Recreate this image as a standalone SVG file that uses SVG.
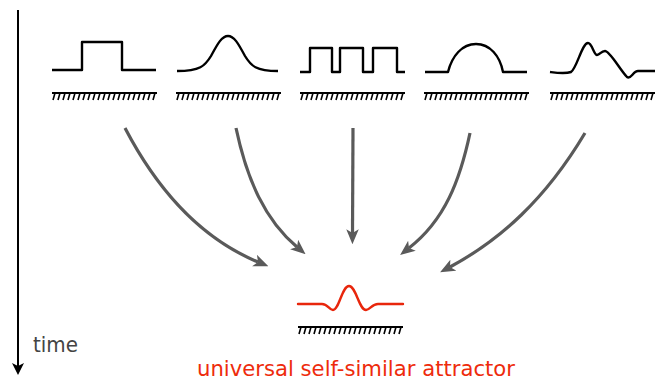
<svg xmlns="http://www.w3.org/2000/svg" xmlns:xlink="http://www.w3.org/1999/xlink" width="664" height="380" viewBox="0 0 664 380">
<style>
.wave{fill:none;stroke:#000;stroke-width:2.4;stroke-linejoin:round}
.red{fill:none;stroke:#e8260c;stroke-width:2.4;stroke-linecap:round;stroke-linejoin:round}
.conn{fill:none;stroke:#5a5a5a;stroke-width:3.2}
.hl{stroke:#000;stroke-width:2}
.ht{stroke:#000;stroke-width:1.6;fill:none}
.lbl{font-family:"DejaVu Sans",sans-serif}
</style>
<defs>
<marker id="ah" markerUnits="userSpaceOnUse" markerWidth="15" markerHeight="13" viewBox="0 0 12 10" refX="3" refY="5" orient="auto">
<path d="M0,0 L12,5 L0,10 L3,5 z" fill="#5a5a5a"/>
</marker>
<marker id="ahk" markerUnits="userSpaceOnUse" markerWidth="12" markerHeight="12" viewBox="0 0 12 12" refX="3" refY="6" orient="auto">
<path d="M0,0 L12,6 L0,12 L3,6 z" fill="#000"/>
</marker>
<g id="hatch">
<line class="hl" x1="0" y1="0" x2="105" y2="0"/>
<path class="ht" d="M3,0 L1,7 M8,0 L6,7 M13,0 L11,7 M18,0 L16,7 M23,0 L21,7 M28,0 L26,7 M33,0 L31,7 M38,0 L36,7 M43,0 L41,7 M48,0 L46,7 M53,0 L51,7 M58,0 L56,7 M63,0 L61,7 M68,0 L66,7 M73,0 L71,7 M78,0 L76,7 M83,0 L81,7 M88,0 L86,7 M93,0 L91,7 M98,0 L96,7 M103,0 L101,7"/>
</g>
</defs>

<g id="time-axis">
<line x1="18" y1="10" x2="18" y2="366" stroke="#000" stroke-width="2" marker-end="url(#ahk)"/>
<text class="lbl" x="33" y="352" font-size="21" fill="#444" textLength="45" lengthAdjust="spacingAndGlyphs">time</text>
</g>

<g id="wave-box">
<path class="wave" d="M52,70 L82,70 L82,42 L122,42 L122,70 L156,70"/>
<use xlink:href="#hatch" x="52" y="93"/>
</g>

<g id="wave-gauss">
<path class="wave" d="M177,71 C200,71 205,66 211,56 C218,43 222,36 228,36 C234,36 238,43 245,56 C251,66 256,71 278,71"/>
<use xlink:href="#hatch" x="176" y="93"/>
</g>

<g id="wave-square">
<path class="wave" d="M300,72 L310,72 L310,48 L332,48 L332,72 L340,72 L340,48 L363,48 L363,72 L373,72 L373,48 L397,48 L397,72 L405,72"/>
<use xlink:href="#hatch" x="300" y="93"/>
</g>

<g id="wave-arc">
<path class="wave" d="M425,72 L448,72 C452,56 462,44 476,44 C490,44 500,56 503,72 L527,72"/>
<use xlink:href="#hatch" x="424" y="93"/>
</g>

<g id="wave-irregular">
<path class="wave" d="M550,72 C558,73 565,74 571,72 C577,68 582,43 588,43 C592,43 594,55 597,55 C600,55 601,51 605,51 C610,51 620,70 627,77 C631,80 633,71 638,71 L655,71"/>
<use xlink:href="#hatch" x="550" y="93"/>
</g>

<g id="attractor">
<path class="red" d="M298,304 L322,304 C328,304 329,310 333,310 C339,310 342,286 349,286 C356,286 359,310 366,310 C370,310 372,304 378,304 L403,304"/>
<use xlink:href="#hatch" x="298" y="327"/>
<text class="lbl" x="197" y="376" font-size="21" fill="#ee2b0c" textLength="318" lengthAdjust="spacingAndGlyphs">universal self-similar attractor</text>
</g>

<g id="connectors">
<path class="conn" d="M125,128 C160,195 205,240 258,262" marker-end="url(#ah)"/>
<path class="conn" d="M236,128 C247,180 265,220 297,247" marker-end="url(#ah)"/>
<path class="conn" d="M353,128 L352.5,233" marker-end="url(#ah)"/>
<path class="conn" d="M470,133 C460,180 445,220 409,248" marker-end="url(#ah)"/>
<path class="conn" d="M585,133 C545,200 500,240 450,267" marker-end="url(#ah)"/>
</g>
</svg>
